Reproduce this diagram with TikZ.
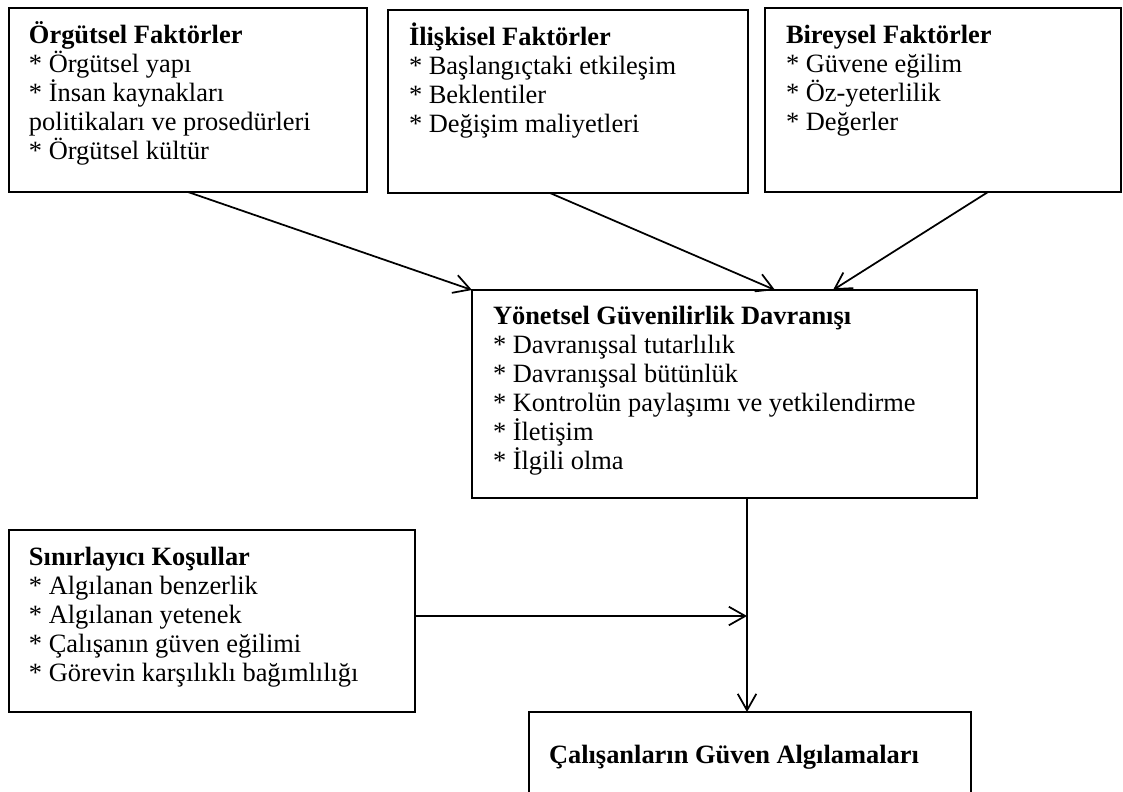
\documentclass[tikz,border=0pt]{standalone}
\usepackage{fontspec}
\setmainfont{Liberation Serif}
\usetikzlibrary{arrows.meta,calc}
% stacked left-aligned lines whose baseline is the first line's
\newcommand\itemlines[1]{\vtop{\baselineskip=13.3pt\halign{##\hfil\cr#1\crcr}}}
\begin{document}
\begin{tikzpicture}[x=0.458pt,y=-0.458pt,
  box/.style={draw, line width=0.8pt, anchor=north west, inner sep=0pt, outer sep=0pt},
  txt/.style={anchor=base west, inner sep=0pt, outer sep=0pt, font=\fontsize{12.1}{13.3}\selectfont},
  link/.style={line width=0.8pt, -{Straight Barb[length=7.5pt,width=8.5pt]}}]
\useasboundingbox (0,0) rectangle (1123,791);
\clip (0,0) rectangle (1123,791);

% factor boxes
\node[box, minimum width=358*0.458pt, minimum height=184*0.458pt] (org) at (9,8) {};
\node[box, minimum width=360*0.458pt, minimum height=183*0.458pt] (rel) at (388,10) {};
\node[box, minimum width=356*0.458pt, minimum height=184*0.458pt] (ind) at (765,8) {};
% managerial behaviour
\node[box, minimum width=505*0.458pt, minimum height=208*0.458pt] (mgr) at (472,290) {};
% limiting conditions
\node[box, minimum width=406*0.458pt, minimum height=182*0.458pt] (cond) at (9,530) {};
% outcome (runs past the lower edge)
\node[box, minimum width=442*0.458pt, minimum height=100*0.458pt] (out) at (529,712) {};

\node[txt] (orgtxt) at ($(org.north west)+(20,35)$) {\itemlines{%
  \textbf{Örgütsel Faktörler}\cr
  * Örgütsel yapı\cr
  * İnsan kaynakları\cr
  politikaları ve prosedürleri\cr
  * Örgütsel kültür}};
\node[txt] (reltxt) at ($(rel.north west)+(21,35)$) {\itemlines{%
  \textbf{İlişkisel Faktörler}\cr
  * Başlangıçtaki etkileşim\cr
  * Beklentiler\cr
  * Değişim maliyetleri}};
\node[txt] (indtxt) at ($(ind.north west)+(21,35)$) {\itemlines{%
  \textbf{Bireysel Faktörler}\cr
  * Güvene eğilim\cr
  * Öz-yeterlilik\cr
  * Değerler}};
\node[txt] (mgrtxt) at ($(mgr.north west)+(21,34)$) {\itemlines{%
  \textbf{Yönetsel Güvenilirlik Davranışı}\cr
  * Davranışsal tutarlılık\cr
  * Davranışsal bütünlük\cr
  * Kontrolün paylaşımı ve yetkilendirme\cr
  * İletişim\cr
  * İlgili olma}};
\node[txt] (condtxt) at ($(cond.north east)+(-386,35)$) {\itemlines{%
  \textbf{Sınırlayıcı Koşullar}\cr
  * Algılanan benzerlik\cr
  * Algılanan yetenek\cr
  * Çalışanın güven eğilimi\cr
  * Görevin karşılıklı bağımlılığı}};
\node[txt] (outtxt) at ($(out.north west)+(20,51)$) {\textbf{Çalışanların Güven Algılamaları}};

% connectors
\coordinate (tap) at ($(out.north west)+(218,0)$);
\coordinate (side) at ($(cond.north east)+(0,86)$);
\draw[link] (org.south) -- (mgr.north west);
\draw[link] ($(rel.south west)+(162,0)$) -- ($(mgr.north west)+(303,0)$);
\draw[link] ($(ind.south west)+(223,0)$) -- ($(mgr.north west)+(361,0)$);
\draw[link] (mgr.south -| tap) -- (tap);
\draw[link] (side) -- (side -| tap);
\end{tikzpicture}
\end{document}
